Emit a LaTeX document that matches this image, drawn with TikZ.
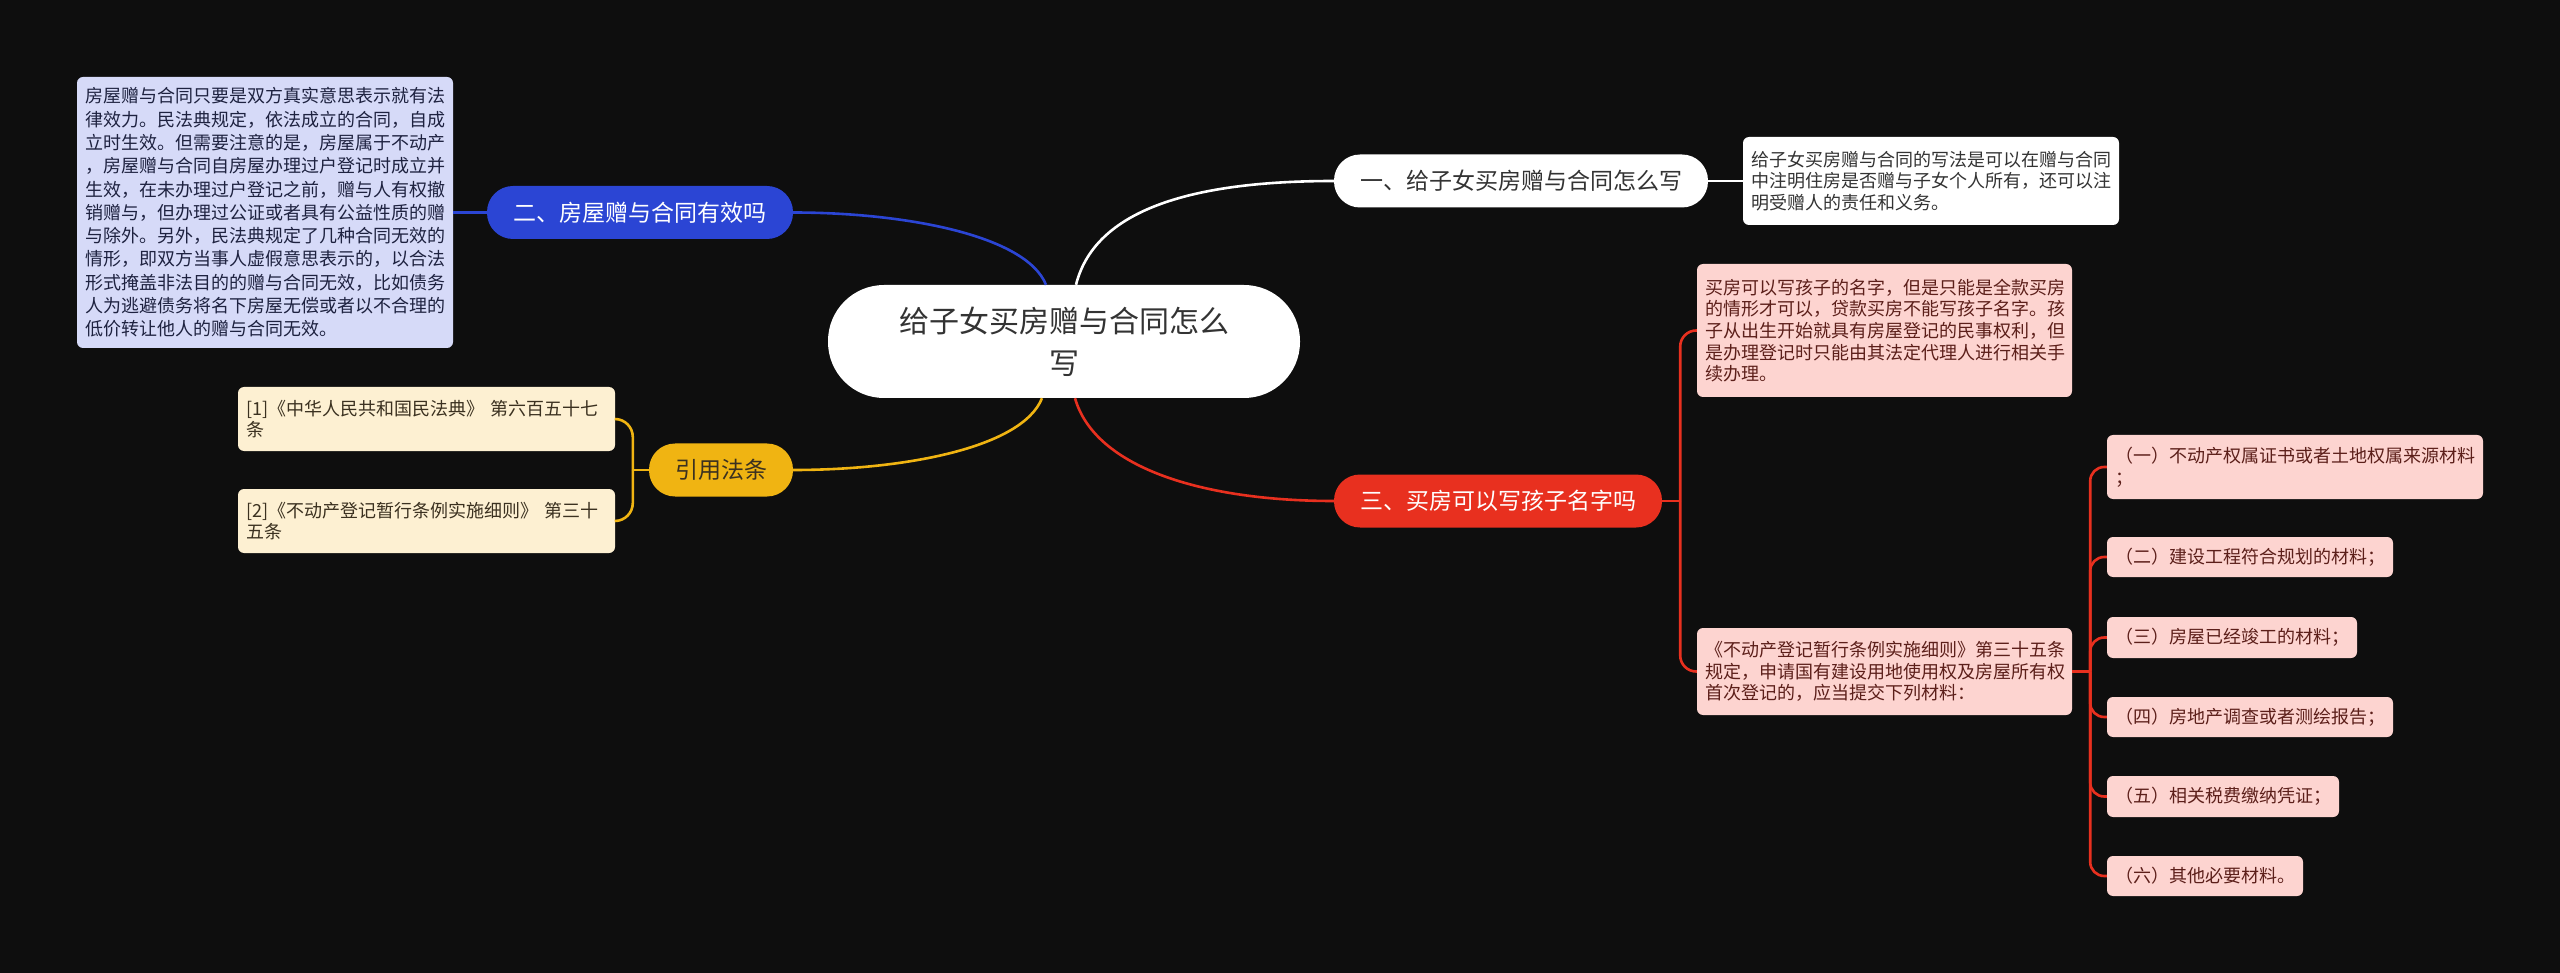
\documentclass[tikz,border=0pt]{standalone}
\usepackage{fontspec}
\setmainfont{Noto Sans CJK SC}
\definecolor{bg}{HTML}{0E0E0E}
\definecolor{txt}{HTML}{333333}
\definecolor{bluec}{HTML}{2B45D4}
\definecolor{bluel}{HTML}{D6DAF8}
\definecolor{bluet}{HTML}{1E2240}
\definecolor{yelc}{HTML}{F0B412}
\definecolor{yell}{HTML}{FDF0D2}
\definecolor{yelt}{HTML}{3B3120}
\definecolor{redc}{HTML}{E8301F}
\definecolor{redl}{HTML}{FDD4D0}
\definecolor{redt}{HTML}{5C1F1A}
\begin{document}
\begin{tikzpicture}[x=1pt,y=-1pt,
  mainnode/.style={rectangle, rounded corners=56pt, minimum width=472pt, minimum height=113pt, fill=white, text=txt, align=center, inner sep=0pt, font=\fontsize{30pt}{42pt}\selectfont},
  branch/.style={rectangle, rounded corners=26pt, minimum height=53pt, inner sep=0pt, font=\fontsize{23pt}{27pt}\selectfont},
  leaf/.style={rectangle, rounded corners=6pt, inner xsep=8pt, inner ysep=0pt, align=left, font=\fontsize{18pt}{21.7pt}\selectfont},
  conn/.style={line width=2.6pt},
]
\fill[bg] (0,0) rectangle (2560,973);
\useasboundingbox (0,0) rectangle (2560,973);

% central
\node[mainnode] (c) at (1064,341.5) {给子女买房赠与合同怎么\\写};

% branches
\node[branch, fill=white, text=txt, minimum width=374pt] (n1) at (1521,181) {一、给子女买房赠与合同怎么写};
\node[branch, fill=bluec, text=white, minimum width=306pt] (n2) at (640,212.5) {二、房屋赠与合同有效吗};
\node[branch, fill=yelc, text=yelt, minimum width=144pt] (n3) at (721,470) {引用法条};
\node[branch, fill=redc, text=white, minimum width=328pt] (n4) at (1498,501) {三、买房可以写孩子名字吗};

% leaves
\node[leaf, fill=bluel, text=bluet, text width=360pt, minimum height=271pt, font=\fontsize{18pt}{23.3pt}\selectfont] (L2) at (265,212.5) {房屋赠与合同只要是双方真实意思表示就有法\\律效力。民法典规定，依法成立的合同，自成\\立时生效。但需要注意的是，房屋属于不动产\\，房屋赠与合同自房屋办理过户登记时成立并\\生效，在未办理过户登记之前，赠与人有权撤\\销赠与，但办理过公证或者具有公益性质的赠\\与除外。另外，民法典规定了几种合同无效的\\情形，即双方当事人虚假意思表示的，以合法\\形式掩盖非法目的的赠与合同无效，比如债务\\人为逃避债务将名下房屋无偿或者以不合理的\\低价转让他人的赠与合同无效。};

\node[leaf, fill=white, text=txt, text width=360pt, minimum height=88pt] (L1) at (1931,181) {给子女买房赠与合同的写法是可以在赠与合同\\中注明住房是否赠与子女个人所有，还可以注\\明受赠人的责任和义务。};

\node[leaf, fill=redl, text=redt, text width=359pt, minimum height=133pt] (L4a) at (1884.5,330.5) {买房可以写孩子的名字，但是只能是全款买房\\的情形才可以，贷款买房不能写孩子名字。孩\\子从出生开始就具有房屋登记的民事权利，但\\是办理登记时只能由其法定代理人进行相关手\\续办理。};

\node[leaf, fill=redl, text=redt, text width=359pt, minimum height=87pt] (L4b) at (1884.5,671.5) {《不动产登记暂行条例实施细则》第三十五条\\规定，申请国有建设用地使用权及房屋所有权\\首次登记的，应当提交下列材料：};

\node[leaf, fill=redl, text=redt, text width=360pt, minimum height=64pt] (c1) at (2295,467) {（一）不动产权属证书或者土地权属来源材料\\；};
\node[leaf, fill=redl, text=redt, minimum height=40pt] (c2) at (2250,557) {（二）建设工程符合规划的材料；};
\node[leaf, fill=redl, text=redt, minimum height=41pt] (c3) at (2232,637.5) {（三）房屋已经竣工的材料；};
\node[leaf, fill=redl, text=redt, minimum height=40pt] (c4) at (2250,717) {（四）房地产调查或者测绘报告；};
\node[leaf, fill=redl, text=redt, minimum height=41pt] (c5) at (2223,796.5) {（五）相关税费缴纳凭证；};
\node[leaf, fill=redl, text=redt, minimum height=40pt] (c6) at (2205,876) {（六）其他必要材料。};

\node[leaf, fill=yell, text=yelt, text width=361pt, minimum height=64pt] (y1) at (426.5,419) {[1]《中华人民共和国民法典》 第六百五十七\\条};
\node[leaf, fill=yell, text=yelt, text width=361pt, minimum height=64pt] (y2) at (426.5,521) {[2]《不动产登记暂行条例实施细则》 第三十\\五条};

% main connectors
\draw[conn, white] ([xshift=12pt]c.north) .. controls +(20,-80) and +(-130,0) .. (n1.west);
\draw[conn, bluec] ([xshift=-18pt]c.north) .. controls +(-20,-50) and +(110,0) .. (n2.east);
\draw[conn, yelc] ([xshift=-22pt]c.south) .. controls +(-20,50) and +(110,0) .. (n3.east);
\draw[conn, redc] ([xshift=11pt]c.south) .. controls +(20,70) and +(-130,0) .. (n4.west);

% second level
\draw[conn, white] (n1.east) -- (L1.west);
\draw[conn, bluec] (n2.west) -- (L2.east);

\coordinate (jy) at ([xshift=-16pt]n3.west);
\draw[conn, yelc] (n3.west) -- (jy);
\draw[conn, yelc, rounded corners=18pt] (jy) |- (y1.east);
\draw[conn, yelc, rounded corners=18pt] (jy) |- (y2.east);

\coordinate (jr) at ([xshift=18pt]n4.east);
\draw[conn, redc] (n4.east) -- (jr);
\draw[conn, redc, rounded corners=16pt] (jr) |- (L4a.west);
\draw[conn, redc, rounded corners=16pt] (jr) |- (L4b.west);

\coordinate (jb) at ([xshift=18pt]L4b.east);
\draw[conn, redc] (L4b.east) -- (jb);
\foreach \k in {c1,c2,c3,c4,c5,c6}{
  \draw[conn, redc, rounded corners=14pt] (jb) |- (\k.west);
}
\end{tikzpicture}
\end{document}
